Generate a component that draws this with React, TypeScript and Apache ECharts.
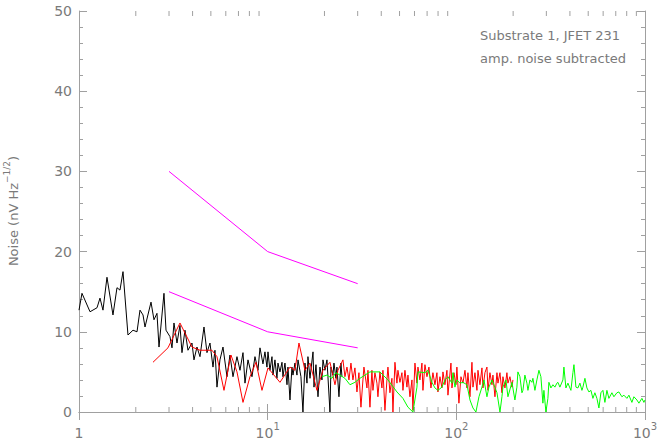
import { useEffect, useRef } from 'react';
import * as echarts from 'echarts';

const blackFreq = [1.0, 1.037, 1.144, 1.246, 1.292, 1.34, 1.407, 1.514, 1.59, 1.649, 1.711, 1.818, 1.933, 2.03, 2.105, 2.184, 2.238, 2.408, 2.497, 2.59, 2.655, 2.821, 2.892, 3.035, 3.111, 3.187, 3.307, 3.429, 3.514, 3.645, 3.781, 3.97, 4.068, 4.22, 4.378, 4.597, 4.768, 4.946, 5.131, 5.256, 5.387, 5.587, 5.797, 6.086, 6.313, 6.549, 6.876, 7.134, 7.4, 7.583, 7.865, 8.257, 8.565, 8.884, 9.104, 9.443, 9.676, 9.915, 10.04, 10.28, 10.54, 10.67, 10.93, 11.2, 11.34, 11.62, 11.91, 12.05, 12.35, 12.66, 12.81, 13.13, 13.45, 13.62, 13.95, 14.3, 14.48, 15.01, 15.38, 15.76, 16.16, 16.35, 16.76, 17.39, 17.6, 18.03, 18.48, 18.93, 19.4, 19.64, 20.12, 20.62, 20.87, 21.39, 21.65, 22.18, 22.46, 23.01, 23.29, 23.87, 24.45, 24.76];
const blackNoise = [12.7, 14.8, 12.5, 13.0, 14.2, 12.7, 16.8, 12.1, 15.5, 15.2, 17.5, 9.6, 10.2, 10.0, 12.7, 12.1, 10.6, 13.7, 11.5, 12.3, 8.1, 14.8, 10.2, 9.4, 8.0, 11.1, 8.6, 10.8, 7.4, 10.2, 7.7, 8.6, 6.5, 8.1, 6.9, 10.6, 7.4, 8.6, 5.6, 7.7, 3.1, 6.5, 8.1, 4.4, 7.1, 4.4, 6.9, 5.2, 7.4, 3.6, 6.5, 4.4, 6.9, 5.2, 8.0, 6.0, 7.5, 5.6, 7.5, 5.2, 6.9, 4.6, 6.5, 4.2, 6.1, 5.0, 6.2, 4.4, 6.1, 3.4, 5.6, 1.5, 5.6, 4.6, 6.1, 4.6, 6.5, 4.4, 0.0, 6.1, 3.6, 6.9, 4.2, 7.5, 3.1, 5.9, 1.9, 5.6, 4.0, 6.5, 5.2, 6.5, 4.4, 0.0, 5.6, 4.6, 6.1, 4.2, 5.6, 1.9, 6.1, 4.4];

const redFreq = [2.467, 2.962, 3.429, 3.97, 4.378, 5.068, 5.387, 5.868, 6.391, 6.876, 7.4, 8.058, 8.67, 9.329, 10.04, 11.62, 13.13, 13.95, 14.65, 15.76, 16.76, 18.25, 19.64, 21.39, 22.74, 23.58, 25.06, 25.68, 26.32, 26.97, 27.63, 28.31, 29.01, 29.73, 30.46, 31.22, 31.99, 32.38, 33.59, 34.0, 34.84, 35.7, 36.14, 37.03, 37.95, 38.41, 39.36, 40.33, 40.83, 41.84, 42.87, 43.4, 44.47, 45.57, 46.13, 47.27, 48.44, 49.03, 50.25, 51.49, 52.12, 53.41, 54.73, 55.4, 56.77, 58.17, 58.88, 60.34, 61.83, 62.59, 64.13, 65.72, 66.53, 68.17, 69.86, 71.58, 73.36, 75.16, 77.02, 78.92, 79.89, 81.87, 83.89, 84.92, 87.02, 89.17, 90.27, 93.63, 94.78, 97.12, 99.52, 100.7, 103.2, 105.8, 108.4, 111.1, 113.8, 115.2, 118.1, 121.0, 122.5, 125.5, 128.6, 130.2, 133.4, 136.7, 138.4, 141.8, 145.3, 147.1, 150.7, 154.5, 156.3, 160.2, 164.2, 166.2, 170.3, 174.5, 176.6, 181.0, 185.4, 187.7, 192.3, 197.1, 199.5];
const redNoise = [6.2, 8.0, 11.1, 8.1, 7.7, 7.7, 6.9, 2.7, 7.1, 5.0, 1.2, 4.4, 6.2, 2.7, 5.5, 3.7, 5.6, 5.2, 8.6, 5.2, 6.1, 2.7, 5.2, 6.2, 3.4, 5.2, 6.5, 4.4, 5.6, 4.0, 6.1, 4.0, 5.5, 2.5, 4.9, 0.6, 4.0, 5.6, 3.0, 5.2, 0.6, 5.2, 2.7, 4.9, 3.6, 1.9, 5.0, 3.0, 5.2, 0.2, 4.0, 5.6, 2.4, 4.2, 0.0, 6.2, 3.6, 5.2, 3.7, 4.9, 2.7, 5.2, 3.1, 4.6, 1.9, 4.0, 0.2, 6.1, 3.6, 5.6, 4.0, 6.1, 2.7, 5.9, 4.4, 5.6, 3.0, 4.9, 3.4, 4.9, 2.5, 4.4, 3.0, 5.0, 3.4, 5.2, 2.1, 6.1, 3.0, 4.9, 3.4, 5.6, 1.1, 4.4, 3.6, 5.2, 3.0, 4.9, 1.9, 6.2, 3.1, 4.9, 2.7, 5.2, 3.4, 5.5, 3.0, 4.9, 5.6, 2.7, 4.9, 3.4, 4.6, 1.9, 4.9, 3.6, 4.9, 2.4, 4.4, 3.0, 4.9, 3.6, 4.4, 3.1, 4.0];

const greenFreq = [19.4, 20.62, 21.91, 23.01, 24.16, 25.68, 27.3, 29.01, 30.84, 34.84, 39.36, 43.4, 48.44, 52.12, 55.4, 58.88, 61.83, 62.59, 68.17, 70.72, 74.25, 77.02, 79.89, 83.89, 87.02, 90.27, 94.78, 95.94, 98.31, 100.7, 104.5, 108.4, 113.8, 118.1, 122.5, 127.0, 131.8, 136.7, 140.1, 145.3, 148.9, 154.5, 158.2, 164.2, 170.3, 174.5, 176.6, 183.2, 187.7, 197.1, 204.4, 209.4, 212.0, 217.3, 222.7, 225.4, 230.9, 236.6, 239.6, 245.5, 251.5, 254.6, 260.9, 267.3, 274.0, 280.7, 287.6, 291.2, 298.4, 305.7, 309.5, 317.1, 325.0, 333.0, 341.3, 345.4, 354.0, 367.2, 371.7, 380.9, 390.3, 404.9, 414.9, 420.1, 430.4, 441.1, 451.9, 463.1, 468.8, 480.4, 492.2, 504.4, 516.8, 529.6, 542.6, 556.1, 569.8, 583.8, 598.3, 613.0, 628.2, 643.7, 667.7, 684.2, 709.7, 727.2, 754.4, 773.0, 801.8, 821.6, 852.3, 873.3, 905.9, 928.3, 962.9, 986.7, 1000];
const greenNoise = [4.4, 4.6, 4.2, 4.9, 4.6, 4.2, 3.4, 3.7, 4.2, 5.0, 5.0, 4.0, 2.5, 1.7, 0.6, 0.0, 3.1, 5.0, 4.9, 5.2, 3.7, 3.0, 2.7, 3.1, 4.0, 4.4, 3.6, 4.9, 3.1, 4.0, 3.6, 3.7, 3.4, 1.5, 0.5, 0.0, 1.9, 3.1, 4.0, 1.9, 3.1, 4.0, 3.4, 2.4, 0.0, 1.9, 3.1, 4.0, 1.9, 3.7, 1.5, 3.1, 5.0, 4.4, 2.4, 2.7, 4.6, 3.6, 2.7, 4.0, 3.7, 4.2, 2.7, 4.0, 5.2, 4.4, 1.1, 2.7, 0.0, 1.7, 3.7, 3.0, 3.4, 3.1, 3.6, 3.7, 3.1, 4.0, 5.6, 3.0, 3.6, 2.7, 4.9, 5.9, 3.1, 3.0, 3.6, 2.7, 3.1, 4.2, 3.0, 2.5, 2.7, 1.7, 2.4, 1.7, 0.5, 2.4, 2.7, 1.2, 2.7, 1.7, 2.4, 1.9, 2.4, 2.5, 1.9, 2.1, 1.7, 2.1, 1.2, 1.9, 1.5, 1.1, 1.7, 1.2, 1.5];

const limitFreq = [3, 10, 30];
const upperLimit = [30, 20, 16];
const lowerLimit = [15, 10, 8];

const xTickValues = [1, 10, 100, 1000];
const xTickBase = ['1', '10', '10', '10'];
const xTickExp = ['', '1', '2', '3'];
const xMinorTicks = [2, 3, 4, 5, 6, 7, 8, 9, 20, 30, 40, 50, 60, 70, 80, 90, 200, 300, 400, 500, 600, 700, 800, 900];

const annotation1 = 'Substrate 1, JFET 231';
const annotation2 = 'amp. noise subtracted';

const FONT = 'DejaVu Sans';
const TEXT = '#7a7a7a';
const AXIS = '#a0a0a0';

const pairs = (xs: number[], ys: number[]) => xs.map((x, i) => [x, ys[i]]);

export default function App() {
  const ref = useRef<HTMLDivElement>(null);
  useEffect(() => {
    const chart = echarts.init(ref.current!, null, { renderer: 'svg' });
    const lineSeries = (data: number[][], color: string) => ({
      type: 'line',
      data,
      showSymbol: false,
      symbol: 'none',
      lineStyle: { color, width: 1 },
      itemStyle: { color },
      xAxisIndex: 0,
      yAxisIndex: 0,
      silent: true,
    });
    chart.setOption({
      animation: false,
      backgroundColor: '#ffffff',
      textStyle: { fontFamily: FONT },
      grid: { left: 79, right: 13, top: 11, bottom: 31, containLabel: false, outerBoundsMode: 'none' },
      xAxis: [
        {
          type: 'log',
          logBase: 10,
          min: 1,
          max: 1000,
          position: 'bottom',
          axisLine: { show: true, lineStyle: { color: AXIS, width: 1 } },
          axisTick: { show: true, inside: true, length: 8, lineStyle: { color: AXIS } },
          splitLine: { show: false },
          axisLabel: {
            margin: 9,
            color: TEXT,
            fontFamily: FONT,
            formatter: (v: number) => {
              const i = xTickValues.findIndex((t) => Math.abs(t - v) / t < 1e-6);
              if (i < 0) return '';
              return xTickExp[i] ? `{b|${xTickBase[i]}}{s|${xTickExp[i]}}` : `{b|${xTickBase[i]}}`;
            },
            rich: {
              b: { fontSize: 14, color: TEXT, fontFamily: FONT, lineHeight: 19, verticalAlign: 'bottom' },
              s: { fontSize: 10, color: TEXT, fontFamily: FONT, lineHeight: 19, verticalAlign: 'top' },
            },
          },
          name: 'Frequency (Hz)',
          nameLocation: 'middle',
          nameGap: 21,
          nameTextStyle: { color: TEXT, fontSize: 14, fontFamily: FONT },
        },
        {
          type: 'log',
          logBase: 10,
          min: 1,
          max: 1000,
          position: 'top',
          axisLine: { show: true, lineStyle: { color: AXIS, width: 1 } },
          axisTick: { show: true, inside: true, length: 8, lineStyle: { color: AXIS } },
          axisLabel: { show: false },
          splitLine: { show: false },
        },
      ],
      yAxis: [
        {
          type: 'value',
          min: 0,
          max: 50,
          interval: 10,
          position: 'left',
          axisLine: { show: true, lineStyle: { color: AXIS, width: 1 } },
          axisTick: { show: true, inside: true, length: 8, lineStyle: { color: AXIS } },
          minorTick: { show: true, splitNumber: 5, length: 4, lineStyle: { color: AXIS } },
          splitLine: { show: false },
          minorSplitLine: { show: false },
          axisLabel: { margin: 7, color: TEXT, fontSize: 14, fontFamily: FONT },
        },
        {
          type: 'value',
          min: 0,
          max: 50,
          interval: 10,
          position: 'right',
          axisLine: { show: true, lineStyle: { color: AXIS, width: 1 } },
          axisTick: { show: true, inside: true, length: 8, lineStyle: { color: AXIS } },
          minorTick: { show: true, splitNumber: 5, length: 4, lineStyle: { color: AXIS } },
          splitLine: { show: false },
          minorSplitLine: { show: false },
          axisLabel: { show: false },
        },
      ],
      graphic: [
        {
          type: 'text',
          x: 11,
          y: 211,
          rotation: Math.PI / 2,
          style: {
            text: '{n|Noise (nV Hz}{s|\u22121/2}{n|)}',
            align: 'center',
            verticalAlign: 'middle',
            rich: {
              n: { fontSize: 13, fill: TEXT, fontFamily: FONT, lineHeight: 18, verticalAlign: 'bottom' },
              s: { fontSize: 9, fill: TEXT, fontFamily: FONT, lineHeight: 18, verticalAlign: 'top' },
            },
          },
        },
        {
          type: 'text',
          x: 480,
          y: 35,
          style: { text: annotation1, fill: TEXT, fontSize: 13, fontFamily: FONT, verticalAlign: 'middle' },
        },
        {
          type: 'text',
          x: 480,
          y: 58,
          style: { text: annotation2, fill: TEXT, fontSize: 13, fontFamily: FONT, verticalAlign: 'middle' },
        },
      ],
      series: [
        {
          type: 'custom',
          xAxisIndex: 0,
          yAxisIndex: 0,
          silent: true,
          clip: false,
          data: xMinorTicks.map((f) => [f, 0]),
          encode: { x: 0, y: 1 },
          renderItem: (_p: any, api: any) => {
            const f = api.value(0);
            const b = api.coord([f, 0]);
            const t = api.coord([f, 50]);
            return {
              type: 'group',
              children: [
                { type: 'line', shape: { x1: b[0], y1: b[1], x2: b[0], y2: b[1] - 5 }, style: { stroke: AXIS, lineWidth: 1 } },
                { type: 'line', shape: { x1: t[0], y1: t[1], x2: t[0], y2: t[1] + 5 }, style: { stroke: AXIS, lineWidth: 1 } },
              ],
            };
          },
        },
        lineSeries(pairs(blackFreq, blackNoise), '#000000'),
        lineSeries(pairs(redFreq, redNoise), '#ff0000'),
        lineSeries(pairs(greenFreq, greenNoise), '#00ff00'),
        lineSeries(pairs(limitFreq, upperLimit), '#ff00ff'),
        lineSeries(pairs(limitFreq, lowerLimit), '#ff00ff'),
      ],
    });
    return () => chart.dispose();
  }, []);
  return <div ref={ref} style={{ position: 'fixed', left: 0, top: 0, width: 658, height: 443 }} />;
}
